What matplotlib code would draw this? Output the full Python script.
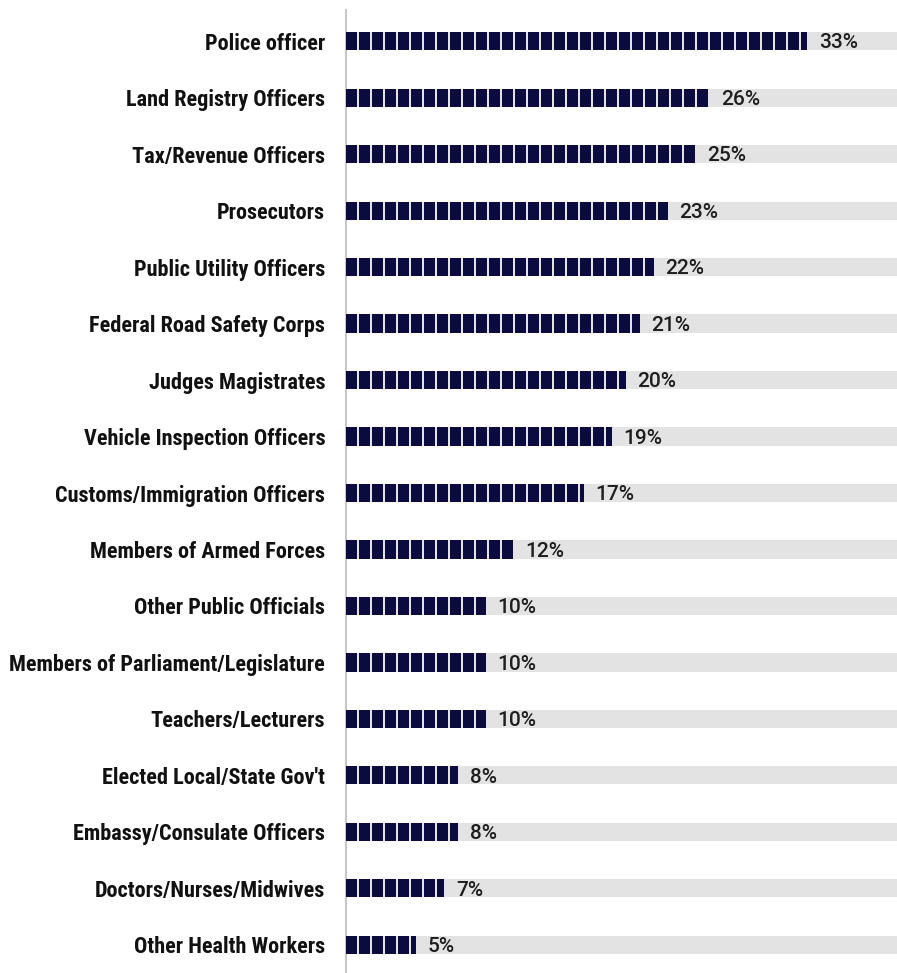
import matplotlib
matplotlib.use("Agg")
import matplotlib.pyplot as plt
from matplotlib.patches import Rectangle

# 職業別の割合 (%)
categories = [
    "Police officer",
    "Land Registry Officers",
    "Tax/Revenue Officers",
    "Prosecutors",
    "Public Utility Officers",
    "Federal Road Safety Corps",
    "Judges Magistrates",
    "Vehicle Inspection Officers",
    "Customs/Immigration Officers",
    "Members of Armed Forces",
    "Other Public Officials",
    "Members of Parliament/Legislature",
    "Teachers/Lecturers",
    "Elected Local/State Gov't",
    "Embassy/Consulate Officers",
    "Doctors/Nurses/Midwives",
    "Other Health Workers",
]
values = [33, 26, 25, 23, 22, 21, 20, 19, 17, 12, 10, 10, 10, 8, 8, 7, 5]

NAVY = "#0b0b3f"
TRACK = "#e3e3e3"
XMAX = 39.4
BAR_H = 0.32
PITCH = 0.93   # 1ブロックの周期
BLOCK = 0.80   # ブロックの幅

LABEL_FONT = ["Roboto Condensed", "Liberation Sans Narrow", "DejaVu Sans"]
VALUE_FONT = ["Roboto", "Liberation Sans", "DejaVu Sans"]


def draw_blocks(ax, y, value):
    # 値までブロックを並べ、最後は値の位置で切る
    x = 0.0
    while x < value:
        w = min(BLOCK, value - x)
        ax.add_patch(Rectangle((x, y - BAR_H / 2), w, BAR_H,
                               facecolor=NAVY, edgecolor="none", zorder=3))
        x += PITCH


def main():
    fig = plt.figure(figsize=(8.97, 9.73), dpi=100)
    ax = fig.add_axes([0.3857, 0.001, 0.6143, 0.9887])

    ypos = list(range(len(categories)))
    ax.barh(ypos, [XMAX] * len(ypos), height=BAR_H, color=TRACK, zorder=1)
    for y, v in zip(ypos, values):
        draw_blocks(ax, y, v)
        ax.text(v + 0.85, y + 0.03, f"{v}%", va="center", ha="left",
                fontsize=15, color="#1e1e1e", fontweight="medium",
                family=VALUE_FONT, zorder=4)

    ax.set_xlim(0, XMAX)
    ax.set_ylim(len(categories) - 0.52, -0.55)
    ax.set_yticks(ypos)
    ax.set_yticklabels(categories, fontsize=16, fontweight="semibold",
                       family=LABEL_FONT, color="#111111")
    ax.tick_params(axis="y", length=0, pad=15)
    ax.set_xticks([])
    for side in ["top", "right", "bottom"]:
        ax.spines[side].set_visible(False)
    ax.spines["left"].set_color("#c8c8c8")
    ax.spines["left"].set_linewidth(1.5)

    fig.savefig("out.png", dpi=100)


if __name__ == "__main__":
    main()
